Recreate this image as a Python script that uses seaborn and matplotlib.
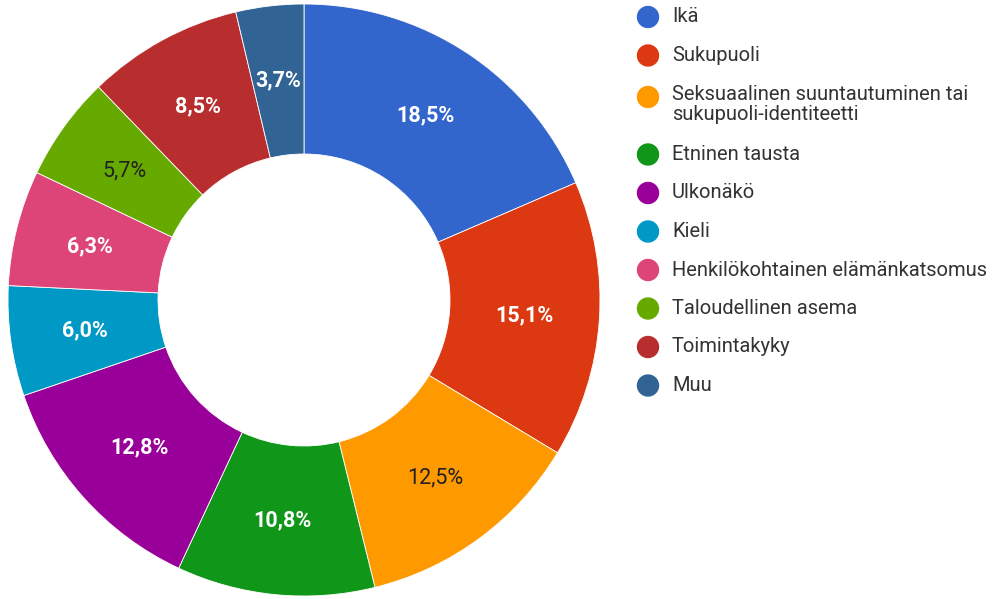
import matplotlib
matplotlib.use("Agg")
import matplotlib.pyplot as plt
import seaborn as sns

# --- data ---
categories = [
    "Ikä",
    "Sukupuoli",
    "Seksuaalinen suuntautuminen tai\nsukupuoli-identiteetti",
    "Etninen tausta",
    "Ulkonäkö",
    "Kieli",
    "Henkilökohtainen elämänkatsomus",
    "Taloudellinen asema",
    "Toimintakyky",
    "Muu",
]
values = [18.5, 15.1, 12.5, 10.8, 12.8, 6.0, 6.3, 5.7, 8.5, 3.7]
colors = ["#3366cc", "#dc3912", "#ff9900", "#109618", "#990099",
          "#0099c6", "#dd4477", "#66aa00", "#b82e2e", "#316395"]
label_colors = ["white", "white", "#222222", "white", "white",
                "white", "white", "#222222", "white", "white"]

sns.set_style("white")
plt.rcParams["font.family"] = ["Roboto", "DejaVu Sans"]

W, H = 999, 599
fig = plt.figure(figsize=(W / 100, H / 100), dpi=100)

# donut: centre ~ (304, 300) px, outer radius ~296 px, inner ~146 px
cx, cy, r = 304, 300, 296
ax = fig.add_axes([(cx - r) / W, (H - cy - r) / H, 2 * r / W, 2 * r / H])
wedges, texts, autotexts = ax.pie(
    values, colors=colors, startangle=90, counterclock=False,
    radius=1.0, wedgeprops=dict(width=1 - 146 / 296, edgecolor="white", linewidth=0.6),
    autopct="%1.1f", pctdistance=(1 + 146 / 296) / 2,
)
for t, v, c in zip(autotexts, values, label_colors):
    t.set_text(f"{v:.1f}".replace(".", ",") + "%")
    t.set_color(c)
    t.set_fontsize(15.5)
    t.set_fontweight("bold" if c == "white" else "normal")
ax.set_xlim(-1, 1)
ax.set_ylim(-1, 1)
ax.set_aspect("equal")
ax.axis("off")

# legend drawn in pixel coordinates
lax = fig.add_axes([0, 0, 1, 1])
lax.set_xlim(0, W)
lax.set_ylim(H, 0)
lax.axis("off")
extra = 0
for i, (lab, col) in enumerate(zip(categories, colors)):
    y = 17 + 38.5 * i + extra
    if "\n" in lab:
        y += 3
        lax.scatter([648], [y], s=260, color=col, edgecolor="none")
        lax.text(672, y - 12, lab, fontsize=14.5, color="#333333", va="top",
                 linespacing=1.05)
    else:
        lax.scatter([648], [y], s=260, color=col, edgecolor="none")
        lax.text(672, y, lab, fontsize=14.5, color="#333333", va="center")
    extra += 22 * lab.count("\n")

fig.savefig("out.png", dpi=100)
